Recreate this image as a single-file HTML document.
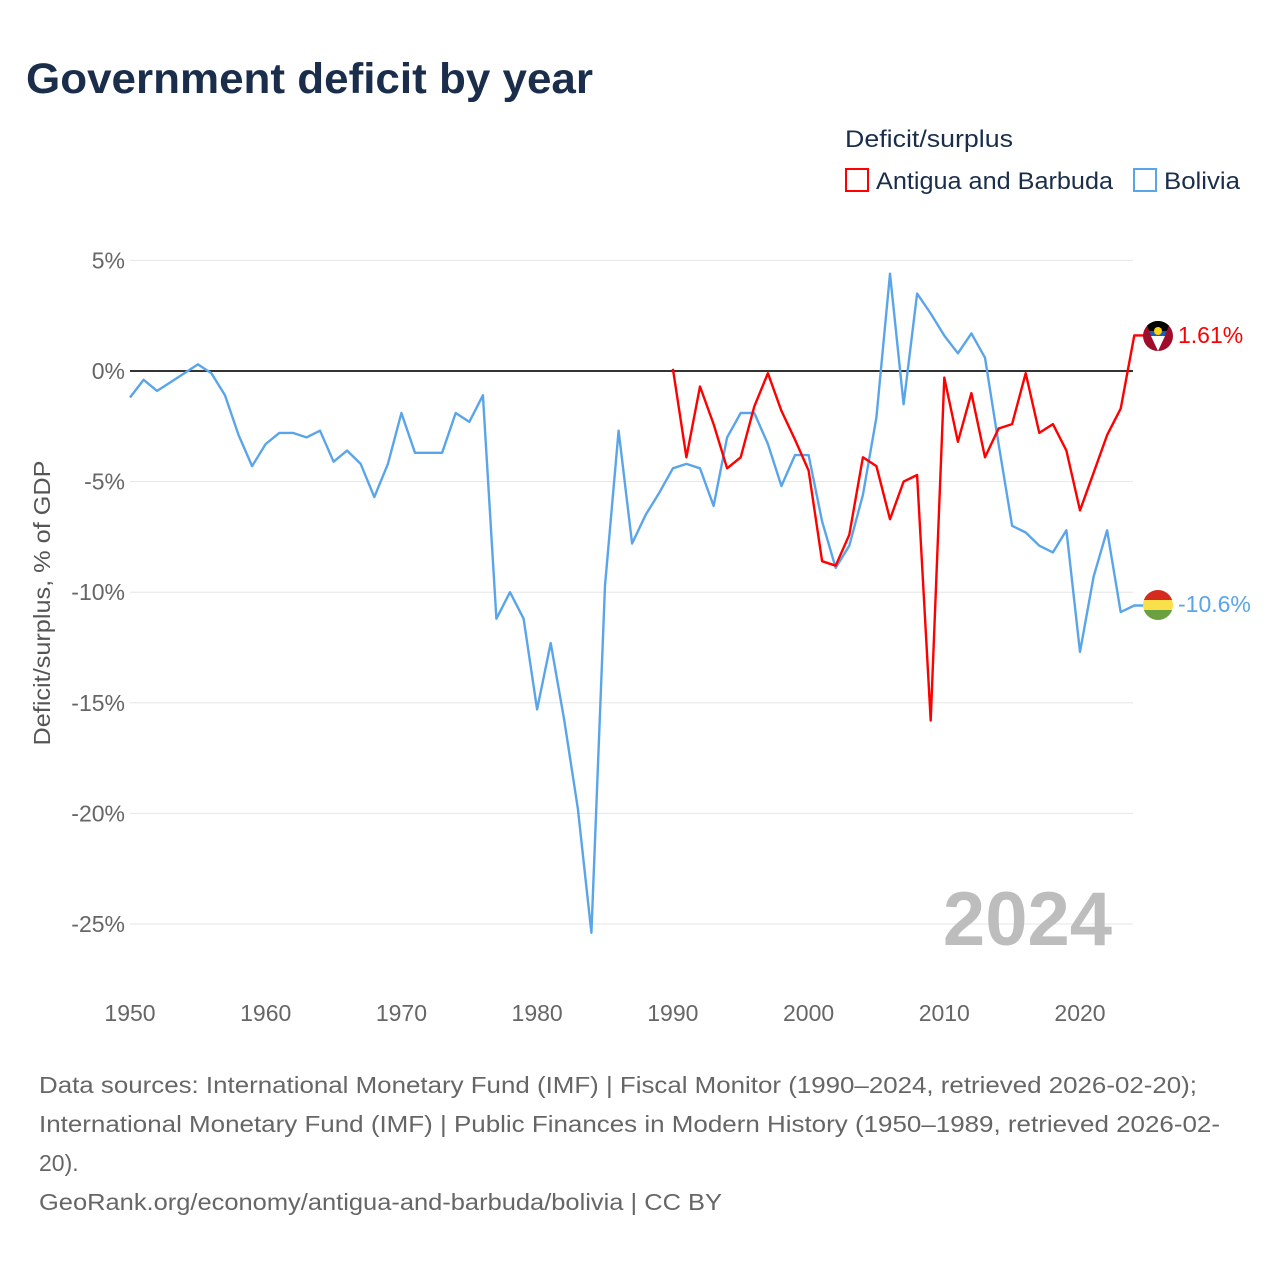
<!DOCTYPE html>
<html><head><meta charset="utf-8"><style>
body{margin:0;background:#fff;width:1280px;height:1280px;overflow:hidden;font-family:"Liberation Sans",sans-serif}
text{font-family:"Liberation Sans",sans-serif}
</style></head><body>
<svg id="chart" width="1280" height="1280">
<text x="26" y="93" font-size="43" font-weight="bold" fill="#1a2e4c" textLength="567" lengthAdjust="spacingAndGlyphs">Government deficit by year</text>
<text x="845" y="147" font-size="24" fill="#1a2e4c" textLength="168" lengthAdjust="spacingAndGlyphs">Deficit/surplus</text>
<g><rect x="846" y="169" width="22" height="22" fill="none" stroke="#f00" stroke-width="2"/><text x="876" y="189" font-size="24" fill="#1a2e4c" textLength="237" lengthAdjust="spacingAndGlyphs">Antigua and Barbuda</text></g>
<g><rect x="1134" y="169" width="22" height="22" fill="none" stroke="#5aa5ea" stroke-width="2"/><text x="1164" y="189" font-size="24" fill="#1a2e4c" textLength="76" lengthAdjust="spacingAndGlyphs">Bolivia</text></g>
<g id="grid"></g><g id="yt"></g><g id="xt"></g><g id="lines"></g>
<text x="50" y="603" font-size="23" fill="#555" transform="rotate(-90 50 603)" text-anchor="middle" textLength="285" lengthAdjust="spacingAndGlyphs">Deficit/surplus, % of GDP</text>
<text x="1112" y="945" font-size="76" font-weight="bold" fill="#bdbdbd" text-anchor="end">2024</text>
<g>
<clipPath id="ca"><circle cx="1158" cy="336" r="15"/></clipPath>
<g clip-path="url(#ca)"><rect x="1143" y="321" width="30" height="30" fill="#a00d2a"/><polygon points="1145,321 1171,321 1158,351" fill="#000"/><polygon points="1149,331 1167,331 1158,351" fill="#1a5fb4"/><polygon points="1151,336 1165,336 1158,351" fill="#fff"/><circle cx="1158" cy="331" r="4" fill="#fcd116"/></g></g>
<g>
<clipPath id="cb"><circle cx="1158" cy="605" r="15"/></clipPath>
<g clip-path="url(#cb)"><rect x="1143" y="590" width="30" height="10" fill="#d52b1e"/><rect x="1143" y="600" width="30" height="10" fill="#f9e04a"/><rect x="1143" y="610" width="30" height="10" fill="#6aa03f"/></g></g>
<text x="1178" y="343" font-size="23" fill="#f00">1.61%</text>
<text x="1178" y="612" font-size="23" fill="#5aa5ea">-10.6%</text>
<g font-size="23" fill="#666">
<text x="39" y="1093" textLength="1158" lengthAdjust="spacingAndGlyphs">Data sources: International Monetary Fund (IMF) | Fiscal Monitor (1990–2024, retrieved 2026-02-20);</text>
<text x="39" y="1132" textLength="1181" lengthAdjust="spacingAndGlyphs">International Monetary Fund (IMF) | Public Finances in Modern History (1950–1989, retrieved 2026-02-</text>
<text x="39" y="1171">20).</text>
<text x="39" y="1210" textLength="683" lengthAdjust="spacingAndGlyphs">GeoRank.org/economy/antigua-and-barbuda/bolivia | CC BY</text>
</g>
</svg>
<script>
const yTicks=[5,0,-5,-10,-15,-20,-25];
const xTicks=[1950,1960,1970,1980,1990,2000,2010,2020];
const boliviaYears=[];for(let y=1950;y<=2024;y++)boliviaYears.push(y);
const boliviaValues=[-1.2,-0.4,-0.9,-0.5,-0.1,0.3,-0.1,-1.1,-2.9,-4.3,-3.3,-2.8,-2.8,-3.0,-2.7,-4.1,-3.6,-4.2,-5.7,-4.2,-1.9,-3.7,-3.7,-3.7,-1.9,-2.3,-1.1,-11.2,-10.0,-11.2,-15.3,-12.3,-15.8,-19.8,-25.4,-9.7,-2.7,-7.8,-6.5,-5.5,-4.4,-4.2,-4.4,-6.1,-3.0,-1.9,-1.9,-3.3,-5.2,-3.8,-3.8,-6.8,-8.9,-7.9,-5.6,-2.1,4.4,-1.5,3.5,2.6,1.6,0.8,1.7,0.6,-3.3,-7.0,-7.3,-7.9,-8.2,-7.2,-12.7,-9.3,-7.2,-10.9,-10.6];
const antiguaYears=[];for(let y=1990;y<=2024;y++)antiguaYears.push(y);
const antiguaValues=[0.1,-3.9,-0.7,-2.4,-4.4,-3.9,-1.6,-0.1,-1.8,-3.1,-4.5,-8.6,-8.8,-7.4,-3.9,-4.3,-6.7,-5.0,-4.7,-15.8,-0.3,-3.2,-1.0,-3.9,-2.6,-2.4,-0.1,-2.8,-2.4,-3.6,-6.3,-4.6,-2.9,-1.7,1.61];
const NS='http://www.w3.org/2000/svg';
const X=y=>130+(y-1950)*950/70;
const Y=v=>371-v*22.12;
function mk(t,a,p){const e=document.createElementNS(NS,t);for(const k in a)e.setAttribute(k,a[k]);document.getElementById(p).appendChild(e);return e;}
yTicks.forEach(v=>{
 const l=mk('line',{x1:130,x2:1133,y1:Y(v),y2:Y(v),stroke:v===0?'#333':'#e6e6e6','stroke-width':v===0?2:1},'grid');
 
 
 const t=mk('text',{x:125,y:Y(v)+8,'text-anchor':'end','font-size':23,fill:'#666'},'yt');
 t.textContent=v+'%';
 
 
});
xTicks.forEach(v=>{
 const t=mk('text',{x:X(v),y:1021,'text-anchor':'middle','font-size':23,fill:'#666'},'xt');
 t.textContent=v;
 
 
});
function line(years,vals,col,name){
 let d=years.map((y,i)=>(i?'L':'M')+X(y).toFixed(1)+','+Y(vals[i]).toFixed(1)).join(' ');
 d+=' L1145,'+Y(vals[vals.length-1]).toFixed(1);
 const p=mk('path',{d:d,fill:'none',stroke:col,'stroke-width':2.4,'stroke-linejoin':'round'},'lines');
 
 
}
line(boliviaYears,boliviaValues,'#5aa5ea','line-bolivia');
line(antiguaYears,antiguaValues,'#ff0000','line-antigua');
</script>
</body></html>
